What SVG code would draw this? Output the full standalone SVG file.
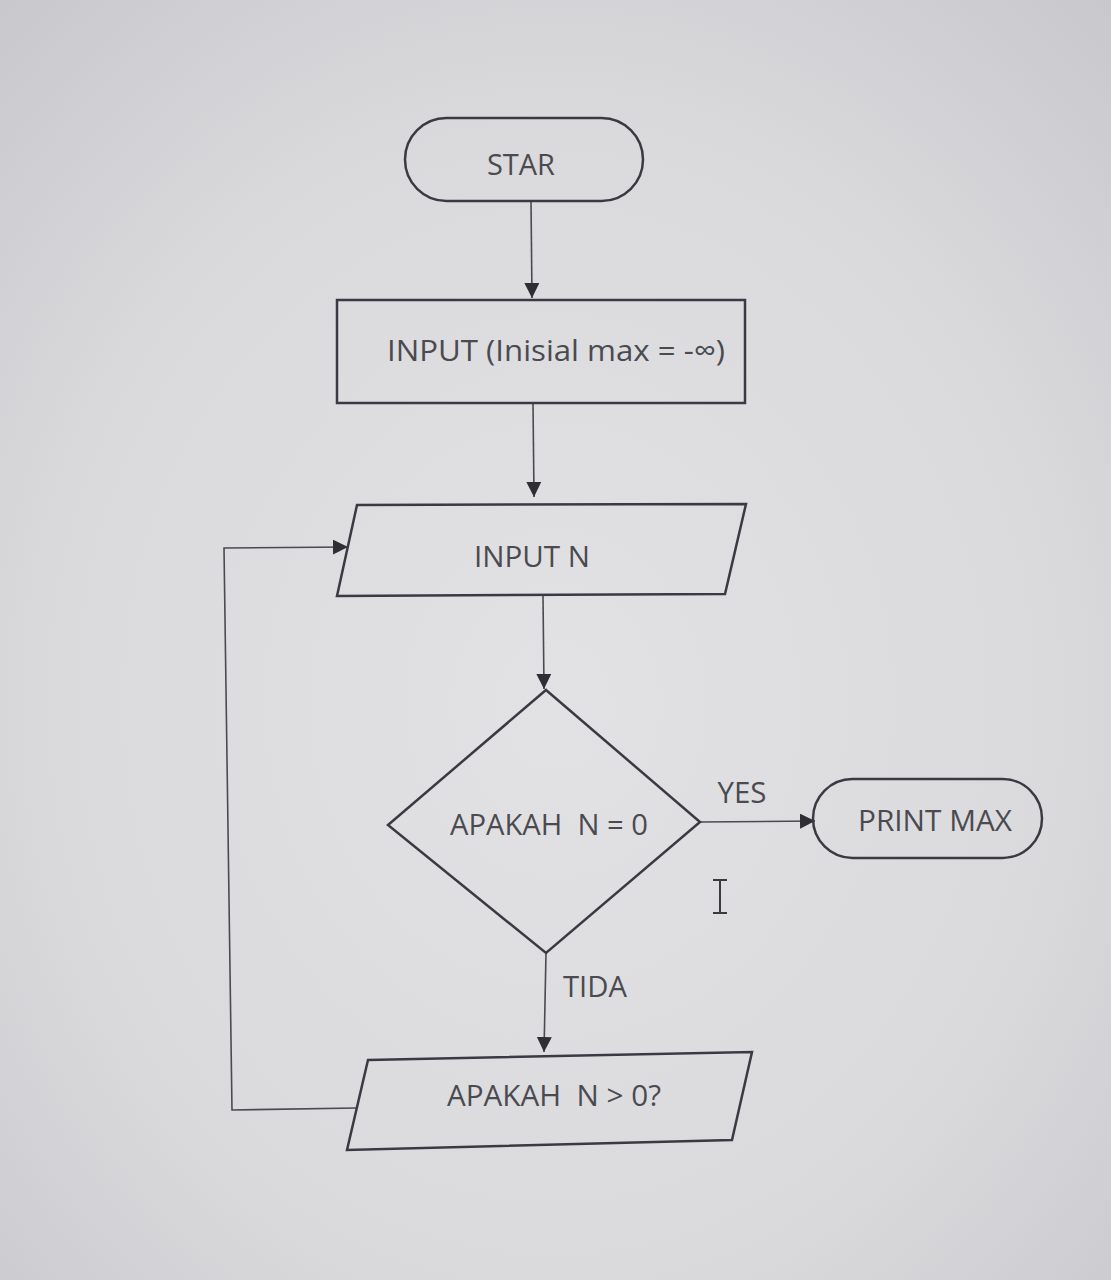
<svg xmlns="http://www.w3.org/2000/svg" width="1111" height="1280" viewBox="0 0 1111 1280">
<defs>
<radialGradient id="bg" cx="0.5" cy="0.55" r="0.75">
<stop offset="0" stop-color="#e2e2e5"/>
<stop offset="0.6" stop-color="#dadadd"/>
<stop offset="1" stop-color="#c8c8cc"/>
</radialGradient>
<marker id="arr" viewBox="0 0 10 10" refX="10" refY="5" markerWidth="15" markerHeight="15" markerUnits="userSpaceOnUse" orient="auto">
<path d="M0,0 L10,5 L0,10 Z" fill="#2e2e34"/>
</marker>
</defs>
<style>
.shape{fill:none;stroke:#3a3a42;stroke-width:2.5}
.conn{fill:none;stroke:#4a4a50;stroke-width:1.6}
.t{font-family:"Open Sans","Liberation Sans",sans-serif;font-size:30px;fill:#4a4a50;white-space:pre}
</style>
<rect width="1111" height="1280" fill="url(#bg)"/>
<g id="connectors">
<line class="conn" x1="531" y1="201" x2="532" y2="298" marker-end="url(#arr)"/>
<line class="conn" x1="533" y1="403" x2="534" y2="497" marker-end="url(#arr)"/>
<line class="conn" x1="543" y1="596" x2="544" y2="689" marker-end="url(#arr)"/>
<line class="conn" x1="700" y1="822" x2="815" y2="821" marker-end="url(#arr)"/>
<line class="conn" x1="546" y1="953" x2="544" y2="1052" marker-end="url(#arr)"/>
<polyline class="conn" points="357,1108 232,1110 224,548 348,547" marker-end="url(#arr)"/>
<text class="t" x="742" y="803" text-anchor="middle" textLength="49" lengthAdjust="spacingAndGlyphs">YES</text>
<text class="t" x="595" y="997" text-anchor="middle" textLength="64" lengthAdjust="spacingAndGlyphs">TIDA</text>
</g>
<g id="start">
<rect class="shape" x="405" y="118" width="238" height="83" rx="41.5"/>
<text class="t" x="521" y="175" text-anchor="middle" textLength="68" lengthAdjust="spacingAndGlyphs">STAR</text>
</g>
<g id="init">
<rect class="shape" x="337" y="300" width="408" height="103"/>
<text class="t" x="556" y="361" text-anchor="middle" textLength="338" lengthAdjust="spacingAndGlyphs">INPUT (Inisial max = -∞)</text>
</g>
<g id="inputN">
<polygon class="shape" points="357,505 746,504 725,594 337,596"/>
<text class="t" x="532" y="567" text-anchor="middle" textLength="116" lengthAdjust="spacingAndGlyphs">INPUT N</text>
</g>
<g id="decision">
<polygon class="shape" points="546,690 700,822 546,953 388,825"/>
<text class="t" x="549" y="835" text-anchor="middle" textLength="198" lengthAdjust="spacingAndGlyphs">APAKAH  N = 0</text>
</g>
<g id="printMax">
<rect class="shape" x="813" y="779" width="229" height="79" rx="39.5"/>
<text class="t" x="935" y="831" text-anchor="middle" textLength="154" lengthAdjust="spacingAndGlyphs">PRINT MAX</text>
</g>
<g id="check">
<polygon class="shape" points="368,1060 752,1052 732,1140 347,1150"/>
<text class="t" x="554" y="1106" text-anchor="middle" textLength="214" lengthAdjust="spacingAndGlyphs">APAKAH  N &gt; 0?</text>
</g>
<g id="cursor" fill="none" stroke="#3a3a40" stroke-width="2">
<line x1="720" y1="881" x2="720" y2="912"/>
<line x1="713" y1="880" x2="727" y2="880"/>
<line x1="713" y1="913" x2="727" y2="913"/>
</g>
</svg>
